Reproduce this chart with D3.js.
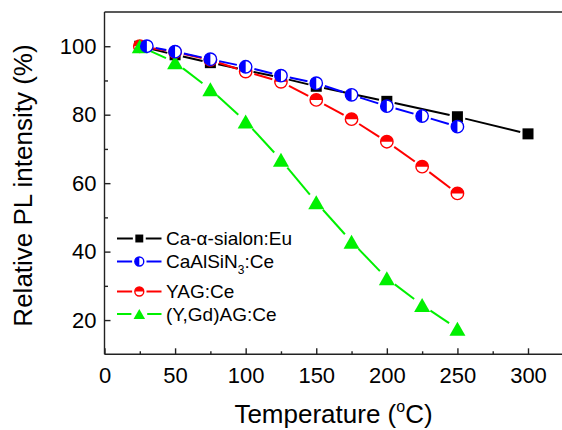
<!DOCTYPE html>
<html>
<head>
<meta charset="utf-8">
<script src="https://cdn.jsdelivr.net/npm/d3@7"></script>
<style>
  html, body { margin: 0; padding: 0; background: #fff; }
  svg { display: block; }
  text { font-family: "Liberation Sans", Arial, sans-serif; fill: #000; }
</style>
</head>
<body>
<div id="chart"></div>
<script>
// Temperature (°C) for each sample series
const tempSialon = [25, 50, 75, 100, 125, 150, 200, 250, 300];
const tempNitride = [30, 50, 75, 100, 125, 150, 175, 200, 225, 250];
const tempYAG = [25, 50, 75, 100, 125, 150, 175, 200, 225, 250];
const tempYGdAG = [25, 50, 75, 100, 125, 150, 175, 200, 225, 250];

// Relative PL intensity (%)
const plSialon = [100, 97.5, 95.2, 93.0, 90.8, 88.3, 83.9, 79.4, 74.4];
const plNitride = [100, 98.4, 96.2, 94.0, 91.4, 89.2, 85.8, 82.5, 79.6, 76.5];
const plYAG = [100, 98.3, 96.0, 92.6, 89.6, 84.3, 78.7, 72.1, 64.8, 57.0];
const plYGdAG = [100, 95.3, 87.4, 78.0, 66.8, 54.4, 42.9, 32.2, 24.4, 17.5];

// Axis ticks
const xMajorTicks = [0, 50, 100, 150, 200, 250, 300];
const xMinorTicks = [25, 75, 125, 175, 225, 275, 325];
const yMajorTicks = [20, 40, 60, 80, 100];
const yMinorTicks = [30, 50, 70, 90];

const W = 562, H = 430;
const svg = d3.select("#chart").append("svg").attr("width", W).attr("height", H);

const x = d3.scaleLinear().domain([0, 325]).range([104.5, 563.3]);
const y = d3.scaleLinear().domain([10, 110]).range([354.3, 12]);

// drawing order: first is at the bottom
const series = [
  { name: "Ca-α-sialon:Eu", t: tempSialon, v: plSialon, color: "#000000", shape: "square" },
  { name: "YAG:Ce", t: tempYAG, v: plYAG, color: "#ff0000", shape: "halfTop" },
  { name: "(Y,Gd)AG:Ce", t: tempYGdAG, v: plYGdAG, color: "#00f000", shape: "triangle" },
  { name: "CaAlSiN3:Ce", t: tempNitride, v: plNitride, color: "#0000ff", shape: "halfLeft" }
];

// marker half-extent used to leave a gap between line and symbol
function gapFor(shape, scale) {
  if (shape === "square") return 5.5 * scale + 2.5;
  if (shape === "triangle") return 7.5 * scale + 2.5;
  return 6.5 * scale + 2.5;
}

function drawMarker(g, shape, color, cx, cy, s) {
  if (shape === "square") {
    const a = 11 * s;
    g.append("rect").attr("x", cx - a / 2).attr("y", cy - a / 2)
      .attr("width", a).attr("height", a).attr("fill", color);
  } else if (shape === "triangle") {
    const w = 16 * s, h = 14 * s;
    g.append("path")
      .attr("d", `M${cx},${cy - h / 2}L${cx + w / 2},${cy + h / 2}L${cx - w / 2},${cy + h / 2}Z`)
      .attr("fill", color);
  } else {
    const r = 6.2 * s;
    g.append("circle").attr("cx", cx).attr("cy", cy).attr("r", r).attr("fill", "#fff");
    const d = shape === "halfLeft"
      ? `M${cx},${cy - r}A${r},${r} 0 0 0 ${cx},${cy + r}Z`
      : `M${cx - r},${cy}A${r},${r} 0 0 1 ${cx + r},${cy}Z`;
    g.append("path").attr("d", d).attr("fill", color);
    g.append("circle").attr("cx", cx).attr("cy", cy).attr("r", r)
      .attr("fill", "none").attr("stroke", color).attr("stroke-width", 1.4);
  }
}

// gapped line segments between consecutive points
function drawGappedLine(g, pts, color, gap) {
  for (let i = 0; i < pts.length - 1; i++) {
    const [x0, y0] = pts[i], [x1, y1] = pts[i + 1];
    const dx = x1 - x0, dy = y1 - y0, len = Math.hypot(dx, dy);
    if (len <= 2 * gap) continue;
    const ux = dx / len, uy = dy / len;
    g.append("line")
      .attr("x1", x0 + ux * gap).attr("y1", y0 + uy * gap)
      .attr("x2", x1 - ux * gap).attr("y2", y1 - uy * gap)
      .attr("stroke", color).attr("stroke-width", 2);
  }
}

// axes frame: left, bottom, top
const axisColor = "#222";
svg.append("line").attr("x1", x(0)).attr("x2", W).attr("y1", y(110)).attr("y2", y(110))
  .attr("stroke", axisColor).attr("stroke-width", 1.4);

const xAxis = d3.axisBottom(x).tickValues(xMajorTicks).tickSize(-6).tickPadding(13)
  .tickFormat(d3.format("d"));
const gx = svg.append("g").attr("transform", `translate(0,${y(10)})`).call(xAxis);
gx.select(".domain").attr("d", `M${x(0)},0H${W + 5}`);
const gxMinor = svg.append("g").attr("transform", `translate(0,${y(10)})`)
  .call(d3.axisBottom(x).tickValues(xMinorTicks).tickSize(-3).tickFormat(""));
gxMinor.select(".domain").remove();

const yAxis = d3.axisLeft(y).tickValues(yMajorTicks).tickSize(-6).tickPadding(8)
  .tickFormat(d3.format("d"));
const gy = svg.append("g").attr("transform", `translate(${x(0)},0)`).call(yAxis);
gy.select(".domain").attr("d", `M0,${y(10)}V${y(110)}`);
const gyMinor = svg.append("g").attr("transform", `translate(${x(0)},0)`)
  .call(d3.axisLeft(y).tickValues(yMinorTicks).tickSize(-3.5).tickFormat(""));
gyMinor.select(".domain").remove();

svg.selectAll(".domain, .tick line").attr("stroke", axisColor).attr("stroke-width", 1.4);
svg.selectAll(".tick text").attr("font-size", 22)
  .attr("font-family", "'Liberation Sans', Arial, sans-serif").attr("fill", "#000");

// series
const plot = svg.append("g");
series.forEach(s => {
  const pts = s.t.map((t, i) => [x(t), y(s.v[i])]);
  const g = plot.append("g");
  drawGappedLine(g, pts, s.color, gapFor(s.shape, 1));
  pts.forEach(p => drawMarker(g, s.shape, s.color, p[0], p[1], 1));
});

// legend
const legendRows = [
  { s: series[0], yy: 238.5 },
  { s: series[3], yy: 261.5 },
  { s: series[1], yy: 291.5 },
  { s: series[2], yy: 314 }
];
const lg = svg.append("g");
legendRows.forEach(r => {
  const sx = 139.3, gap = gapFor(r.s.shape, 0.72);
  lg.append("line").attr("x1", 117).attr("x2", sx - gap).attr("y1", r.yy).attr("y2", r.yy)
    .attr("stroke", r.s.color).attr("stroke-width", 2);
  lg.append("line").attr("x1", sx + gap).attr("x2", 161.5).attr("y1", r.yy).attr("y2", r.yy)
    .attr("stroke", r.s.color).attr("stroke-width", 2);
  drawMarker(lg, r.s.shape, r.s.color, sx, r.yy, 0.72);
  const t = lg.append("text").attr("x", 166).attr("y", r.yy + 6.8).attr("font-size", 19);
  if (r.s.name === "CaAlSiN3:Ce") {
    t.append("tspan").text("CaAlSiN");
    t.append("tspan").attr("font-size", 12).attr("dy", 6).text("3");
    t.append("tspan").attr("dy", -6).text(":Ce");
  } else {
    t.text(r.s.name);
  }
});

// axis titles
svg.append("text")
  .attr("transform", "translate(32,185.5) rotate(-90)")
  .attr("text-anchor", "middle").attr("font-size", 26)
  .text("Relative PL intensity (%)");

const xt = svg.append("text").attr("x", 333.5).attr("y", 423)
  .attr("text-anchor", "middle").attr("font-size", 26);
xt.append("tspan").text("Temperature (");
xt.append("tspan").attr("font-size", 16).attr("dy", -11).text("o");
xt.append("tspan").attr("dy", 11).text("C)");
</script>
</body>
</html>
